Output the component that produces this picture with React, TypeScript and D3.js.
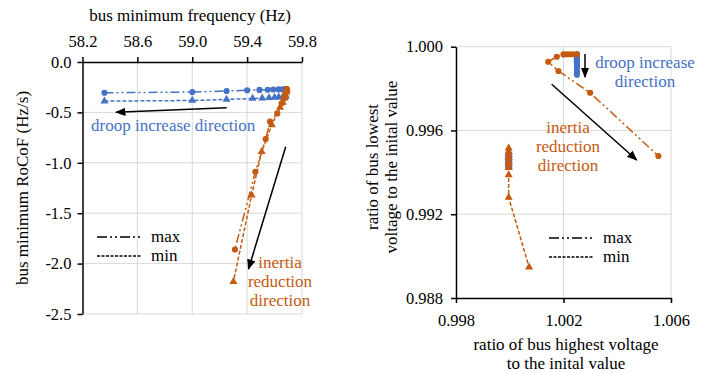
import React, { useEffect, useRef } from 'react';
import * as d3 from 'd3';

// left panel: bus minimum frequency (Hz) vs bus minimum RoCoF (Hz/s)
const droopMaxFreq = [58.36, 59.0, 59.25, 59.4, 59.49, 59.55, 59.59, 59.63, 59.66, 59.68];
const droopMaxRocof = [-0.305, -0.298, -0.288, -0.28, -0.277, -0.275, -0.273, -0.272, -0.27, -0.268];
const droopMinFreq = [58.36, 59.0, 59.25, 59.44, 59.51, 59.56, 59.6, 59.63, 59.66, 59.68];
const droopMinRocof = [-0.388, -0.382, -0.372, -0.362, -0.358, -0.355, -0.352, -0.349, -0.346, -0.343];
const inertiaMaxFreq = [59.69, 59.686, 59.68, 59.67, 59.652, 59.62, 59.567, 59.535, 59.46, 59.311];
const inertiaMaxRocof = [-0.268, -0.29, -0.315, -0.36, -0.41, -0.51, -0.59, -0.765, -1.09, -1.86];
const inertiaMinFreq = [59.69, 59.686, 59.68, 59.672, 59.66, 59.64, 59.58, 59.506, 59.433, 59.3];
const inertiaMinRocof = [-0.28, -0.3, -0.33, -0.36, -0.4, -0.45, -0.625, -0.89, -1.32, -2.18];

const leftXTicks = [58.2, 58.6, 59.0, 59.4, 59.8];
const leftYTicks = [0, -0.5, -1.0, -1.5, -2.0, -2.5];

// right panel: highest voltage ratio vs lowest voltage ratio
const droopMaxHigh = [1.0025, 1.0025, 1.0025, 1.0025, 1.0025, 1.0025, 1.0025, 1.0025, 1.0025, 1.0025];
const droopMaxLow = [0.99964, 0.99955, 0.99945, 0.99935, 0.99925, 0.99915, 0.99905, 0.99893, 0.9988, 0.99866];
const droopMinHigh = [0.99996, 0.99996, 0.99996, 0.99996, 0.99996, 0.99996, 0.99996, 0.99996, 0.99996, 0.99996];
const droopMinLow = [0.99495, 0.99487, 0.99479, 0.99471, 0.99463, 0.99455, 0.99447, 0.99439, 0.99431, 0.99422];
const inertiaMaxHigh = [1.0025, 1.00237, 1.00224, 1.00212, 1.002, 1.00175, 1.00143, 1.00181, 1.00299, 1.00553];
const inertiaMaxLow = [0.99964, 0.99964, 0.99964, 0.99964, 0.99963, 0.99952, 0.99928, 0.99884, 0.9978, 0.99478];
const inertiaMinHigh = [0.99996, 0.99996, 0.99996, 0.99996, 0.99996, 0.99996, 0.99996, 0.99996, 0.99996, 1.00072];
const inertiaMinLow = [0.99516, 0.995, 0.99485, 0.9947, 0.99455, 0.9944, 0.99422, 0.99388, 0.9928, 0.98947];

const rightXTicks = [0.998, 1.002, 1.006];
const rightYTicks = [1.0, 0.996, 0.992, 0.988];

const BLUE = '#4472C4';
const ORANGE = '#C55A11';
const GRID = '#d9d9d9';
const MAX_DASH = '9,3,2,3,2,3';
const MIN_DASH = '4,2';

const zip = (xs: number[], ys: number[]) => xs.map((v, i) => [v, ys[i]] as [number, number]);

const App: React.FC = () => {
  const svgRef = useRef<SVGSVGElement | null>(null);

  useEffect(() => {
    if (!svgRef.current) return;
    const svg = d3.select(svgRef.current);
    svg.selectAll('*').remove();

    svg
      .append('defs')
      .append('marker')
      .attr('id', 'arrow')
      .attr('viewBox', '0 0 10 10')
      .attr('refX', 9)
      .attr('refY', 5)
      .attr('markerWidth', 7)
      .attr('markerHeight', 7)
      .attr('orient', 'auto')
      .append('path')
      .attr('d', 'M0,1 L10,5 L0,9 Z')
      .attr('fill', '#000');

    const drawSeries = (
      g: d3.Selection<SVGGElement, unknown, null, undefined>,
      pts: [number, number][],
      x: d3.ScaleLinear<number, number>,
      y: d3.ScaleLinear<number, number>,
      color: string,
      dash: string,
      marker: 'circle' | 'triangle'
    ) => {
      const line = d3
        .line<[number, number]>()
        .x((d) => x(d[0]))
        .y((d) => y(d[1]));
      g.append('path')
        .attr('d', line(pts))
        .attr('fill', 'none')
        .attr('stroke', color)
        .attr('stroke-width', 1.5)
        .attr('stroke-dasharray', dash);
      const sym = d3
        .symbol()
        .type(marker === 'circle' ? d3.symbolCircle : d3.symbolTriangle)
        .size(marker === 'circle' ? 30 : 28);
      g.selectAll(null)
        .data(pts)
        .enter()
        .append('path')
        .attr('d', sym)
        .attr('transform', (d) => `translate(${x(d[0])},${y(d[1])})`)
        .attr('fill', color);
    };

    const drawLegend = (x0: number, y0: number) => {
      const lg = svg.append('g');
      [
        { label: 'max', dash: '10,3,2,3,2,3', dy: 0 },
        { label: 'min', dash: '3,1.5', dy: 19 },
      ].forEach((it) => {
        lg.append('line')
          .attr('x1', x0)
          .attr('x2', x0 + 45)
          .attr('y1', y0 + it.dy)
          .attr('y2', y0 + it.dy)
          .attr('stroke', '#000')
          .attr('stroke-width', 1.5)
          .attr('stroke-dasharray', it.dash);
        lg.append('text')
          .attr('x', x0 + 54)
          .attr('y', y0 + it.dy + 5)
          .text(it.label);
      });
    };

    const addText = (lines: string[], x: number, y: number, color: string, anchor = 'middle', lh = 19) => {
      const t = svg.append('text').attr('fill', color).attr('text-anchor', anchor);
      lines.forEach((l, i) => {
        t.append('tspan').attr('x', x).attr('y', y + i * lh).text(l);
      });
    };

    const arrow = (x1: number, y1: number, x2: number, y2: number) => {
      svg
        .append('line')
        .attr('x1', x1)
        .attr('y1', y1)
        .attr('x2', x2)
        .attr('y2', y2)
        .attr('stroke', '#000')
        .attr('stroke-width', 1.5)
        .attr('marker-end', 'url(#arrow)');
    };

    // d3 axis puts its own font attributes on the group; drop them so the svg font applies
    const styleAxis = (a: d3.Selection<SVGGElement, unknown, null, undefined>) => {
      a.attr('font-family', null).attr('font-size', 16.5);
      a.select('.domain').attr('stroke-width', 1.5);
      a.selectAll('.tick line').attr('stroke-width', 1.5);
      a.selectAll('text').attr('fill', '#000');
    };

    // ---------- left panel ----------
    const lx = d3.scaleLinear().domain([58.2, 59.8]).range([82.5, 302]);
    const ly = d3.scaleLinear().domain([0, -2.5]).range([62, 314]);
    const gl = svg.append('g');

    gl.selectAll('line.vg')
      .data(leftXTicks.slice(1))
      .enter()
      .append('line')
      .attr('x1', (d) => lx(d))
      .attr('x2', (d) => lx(d))
      .attr('y1', ly(0))
      .attr('y2', ly(-2.5))
      .attr('stroke', GRID);
    gl.selectAll('line.hg')
      .data(leftYTicks.slice(1))
      .enter()
      .append('line')
      .attr('x1', lx(58.2))
      .attr('x2', lx(59.8))
      .attr('y1', (d) => ly(d))
      .attr('y2', (d) => ly(d))
      .attr('stroke', GRID);

    const lxAxis = gl
      .append('g')
      .attr('transform', `translate(0,${ly(0)})`)
      .call(d3.axisTop(lx).tickValues(leftXTicks).tickFormat((d) => (+d).toFixed(1)).tickSize(5).tickSizeOuter(0));
    const lyAxis = gl
      .append('g')
      .attr('transform', `translate(${lx(58.2)},0)`)
      .call(
        d3.axisLeft(ly).tickValues(leftYTicks).tickFormat((d) => (+d).toFixed(1)).tickSize(5).tickPadding(6).tickSizeOuter(0)
      );
    styleAxis(lxAxis);
    styleAxis(lyAxis);
    lxAxis.selectAll('text').attr('y', -15).attr('dy', 0);

    drawSeries(gl, zip(droopMaxFreq, droopMaxRocof), lx, ly, BLUE, MAX_DASH, 'circle');
    drawSeries(gl, zip(droopMinFreq, droopMinRocof), lx, ly, BLUE, MIN_DASH, 'triangle');
    drawSeries(gl, zip(inertiaMaxFreq, inertiaMaxRocof), lx, ly, ORANGE, MAX_DASH, 'circle');
    drawSeries(gl, zip(inertiaMinFreq, inertiaMinRocof), lx, ly, ORANGE, MIN_DASH, 'triangle');

    addText(['bus minimum frequency (Hz)'], 190, 21, '#000');
    svg
      .append('text')
      .attr('transform', 'translate(28,188) rotate(-90)')
      .attr('text-anchor', 'middle')
      .text('bus minimum RoCoF (Hz/s)');

    arrow(226.7, 107.7, 116, 112.3);
    arrow(285.7, 146.7, 248.5, 269);
    addText(['droop increase direction'], 91, 131, BLUE, 'start');
    addText(['inertia', 'reduction', 'direction'], 280, 268, ORANGE);
    drawLegend(97, 237);

    // ---------- right panel ----------
    const rx = d3.scaleLinear().domain([0.998, 1.006]).range([456, 671]);
    const ry = d3.scaleLinear().domain([0.988, 1.0]).range([298, 46.7]);
    const gr = svg.append('g');

    gr.selectAll('line.vg')
      .data(rightXTicks.slice(1))
      .enter()
      .append('line')
      .attr('x1', (d) => rx(d))
      .attr('x2', (d) => rx(d))
      .attr('y1', ry(1.0))
      .attr('y2', ry(0.988))
      .attr('stroke', GRID);
    gr.selectAll('line.hg')
      .data(rightYTicks.slice(0, 3))
      .enter()
      .append('line')
      .attr('x1', rx(0.998))
      .attr('x2', rx(1.006))
      .attr('y1', (d) => ry(d))
      .attr('y2', (d) => ry(d))
      .attr('stroke', GRID);

    const rxAxis = gr
      .append('g')
      .attr('transform', `translate(0,${ry(0.988)})`)
      .call(d3.axisBottom(rx).tickValues(rightXTicks).tickFormat((d) => (+d).toFixed(3)).tickSize(5).tickSizeOuter(0));
    const ryAxis = gr
      .append('g')
      .attr('transform', `translate(${rx(0.998)},0)`)
      .call(
        d3.axisLeft(ry).tickValues(rightYTicks).tickFormat((d) => (+d).toFixed(3)).tickSize(5).tickPadding(8).tickSizeOuter(0)
      );
    styleAxis(rxAxis);
    styleAxis(ryAxis);
    rxAxis.selectAll('text').attr('dy', '1.2em');

    drawSeries(gr, zip(droopMaxHigh, droopMaxLow), rx, ry, BLUE, MAX_DASH, 'circle');
    drawSeries(gr, zip(droopMinHigh, droopMinLow), rx, ry, BLUE, MIN_DASH, 'triangle');
    drawSeries(gr, zip(inertiaMaxHigh, inertiaMaxLow), rx, ry, ORANGE, MAX_DASH, 'circle');
    drawSeries(gr, zip(inertiaMinHigh, inertiaMinLow), rx, ry, ORANGE, MIN_DASH, 'triangle');

    addText(['ratio of bus highest voltage', 'to the inital value'], 566, 350, '#000');
    const ytitle = svg.append('text').attr('transform', 'translate(378,167) rotate(-90)').attr('text-anchor', 'middle');
    ytitle.append('tspan').attr('x', 0).attr('y', 0).text('ratio of bus lowest');
    ytitle.append('tspan').attr('x', 0).attr('y', 19).text('voltage to the inital value');

    arrow(585, 54, 585, 77);
    arrow(551.7, 84.3, 636.7, 160);
    addText(['droop increase', 'direction'], 645, 68, BLUE);
    addText(['inertia', 'reduction', 'direction'], 568, 133, ORANGE);
    drawLegend(549, 238);
  }, []);

  return (
    <svg
      ref={svgRef}
      width={724}
      height={373}
      style={{ position: 'absolute', left: 0, top: 0, background: '#fff', fontFamily: 'Liberation Serif', fontSize: 17 }}
    />
  );
};

export default App;
